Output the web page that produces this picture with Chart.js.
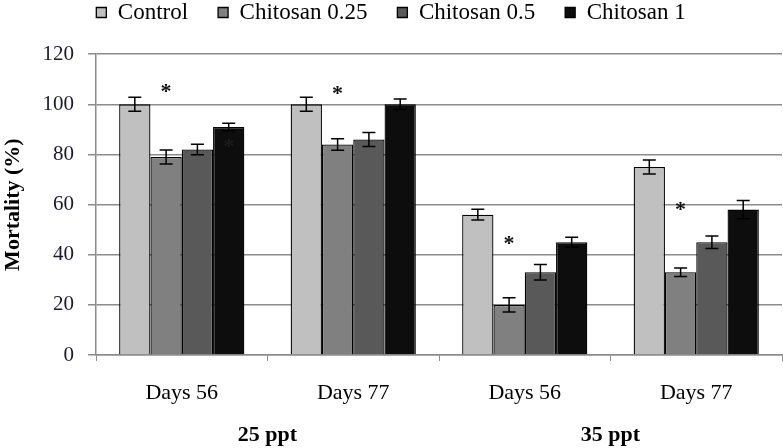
<!DOCTYPE html>
<html><head><meta charset="utf-8">
<script src="https://cdn.jsdelivr.net/npm/chart.js@4/dist/chart.umd.min.js"></script>
<style>html,body{margin:0;padding:0;background:#fff}</style>
</head><body>
<canvas id="c" width="783" height="448" style="width:783px;height:448px;display:block"></canvas>
<script>
const categories = ["Days 56", "Days 77", "Days 56", "Days 77"];
const groupLabels = ["25 ppt", "35 ppt"];
const seriesNames = ["Control", "Chitosan 0.25", "Chitosan 0.5", "Chitosan 1"];
const control = [100, 100, 56, 75];
const controlErr = [2.8, 2.8, 2.1, 2.8];
const chitosan025 = [79, 84, 20, 33];
const chitosan025Err = [2.8, 2.3, 2.8, 1.7];
const chitosan05 = [82, 86, 33, 45];
const chitosan05Err = [2.1, 2.8, 3.1, 2.5];
const chitosan1 = [91, 100, 45, 58];
const chitosan1Err = [1.5, 2.1, 2, 3.6];
// significance marks: [category index, series index, value]
const starCategory = [0, 1, 2, 3, 0];
const starSeries = [1, 1, 1, 1, 3];
const starValue = [106.5, 105.7, 46, 59.5, 84.5];
const yTicks = [0, 20, 40, 60, 80, 100, 120];

const colors = ["#c0c0c0", "#808080", "#595959", "#0d0d0d"];
const values = [control, chitosan025, chitosan05, chitosan1];
const errors = [controlErr, chitosan025Err, chitosan05Err, chitosan1Err];

const serif = "'Liberation Serif', 'Times New Roman', serif";

const errorBarPlugin = {
  id: 'errorBars',
  afterDatasetsDraw(chart) {
    const ctx = chart.ctx;
    const y = chart.scales.y;
    ctx.save();
    ctx.strokeStyle = '#000';
    ctx.lineWidth = 1.5;
    chart.data.datasets.forEach((ds, di) => {
      const meta = chart.getDatasetMeta(di);
      meta.data.forEach((bar, i) => {
        const v = ds.data[i], e = errors[di][i];
        const yt = y.getPixelForValue(v + e), yb = y.getPixelForValue(v - e);
        const x = bar.x, hw = 6.5;
        ctx.beginPath();
        ctx.moveTo(x, yt); ctx.lineTo(x, yb);
        ctx.moveTo(x - hw, yt); ctx.lineTo(x + hw, yt);
        ctx.moveTo(x - hw, yb); ctx.lineTo(x + hw, yb);
        ctx.stroke();
      });
    });
    ctx.font = 'bold 22px ' + serif;
    ctx.textAlign = 'center';
    ctx.textBaseline = 'alphabetic';
    starCategory.forEach((c, k) => {
      const bar = chart.getDatasetMeta(starSeries[k]).data[c];
      const py = y.getPixelForValue(starValue[k]);
      ctx.fillStyle = starSeries[k] === 3 ? '#1c1c1c' : '#111';
      ctx.fillText('*', bar.x, py + 10);
    });
    ctx.restore();
  },
  afterDraw(chart) {
    const ctx = chart.ctx;
    const x = chart.scales.x;
    ctx.save();
    ctx.fillStyle = '#000';
    ctx.font = 'bold 22px ' + serif;
    ctx.textAlign = 'center';
    ctx.textBaseline = 'middle';
    groupLabels.forEach((g, k) => {
      const px = (x.getPixelForValue(2 * k) + x.getPixelForValue(2 * k + 1)) / 2;
      ctx.fillText(g, px, 435);
    });
    ctx.restore();
  }
};

new Chart(document.getElementById('c'), {
  type: 'bar',
  data: {
    labels: categories,
    datasets: seriesNames.map((n, i) => ({
      label: n,
      data: values[i],
      backgroundColor: colors[i],
      borderColor: '#000',
      borderWidth: 1.3,
      barPercentage: 1,
      categoryPercentage: 0.73
    }))
  },
  options: {
    responsive: false,
    devicePixelRatio: 1,
    animation: false,
    layout: { padding: { left: 0, right: 1, top: -29, bottom: 0 } },
    plugins: {
      tooltip: { enabled: false },
      title: { display: true, text: '', weight: 500, font: { size: 1 }, padding: { top: 0, bottom: 19 } },
      legend: {
        position: 'top',
        weight: 1000,
        labels: {
          boxWidth: 10, boxHeight: 10, padding: 30,
          color: '#000',
          font: { family: serif, size: 23 }
        }
      }
    },
    scales: {
      x: {
        afterFit(s) { s.height = 93; },
        grid: { offset: true, drawOnChartArea: false, drawTicks: true, tickLength: 6, color: '#8c8c8c' },
        border: { color: '#8c8c8c', width: 1.5 },
        ticks: { color: '#000', font: { family: serif, size: 22 }, padding: 19 }
      },
      y: {
        min: 0, max: 120,
        afterFit(s) { s.width = 96; },
        afterBuildTicks(s) { s.ticks = yTicks.map(v => ({ value: v })); },
        grid: { color: '#8c8c8c', lineWidth: 1.5, tickLength: 8 },
        border: { color: '#8c8c8c', width: 1.5 },
        ticks: { color: '#1a1a2e', font: { family: serif, size: 21 }, padding: 14 },
        title: { display: true, text: 'Mortality (%)', color: '#000', font: { family: serif, size: 22, weight: 'bold' }, padding: { top: 0, bottom: 0 } }
      }
    }
  },
  plugins: [errorBarPlugin]
});
</script>
</body></html>
